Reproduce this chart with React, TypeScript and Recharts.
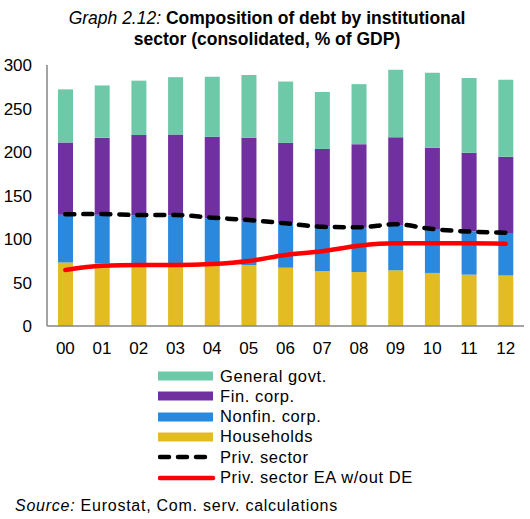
import { Bar, ComposedChart, Legend, Line, XAxis, YAxis } from "recharts"

const years = ["00", "01", "02", "03", "04", "05", "06", "07", "08", "09", "10", "11", "12"]
const households = [73, 72, 70, 70, 69, 70, 67, 63, 62, 64, 61, 59, 58]
const nonfinCorp = [55, 56, 57.5, 57, 55, 51, 51, 51, 51, 52, 50.5, 49.5, 49]
const finCorp = [83, 88.5, 92, 93, 93.5, 95.5, 92.5, 89.5, 96, 101, 93.5, 90.5, 87.5]
const generalGovt = [61, 60, 62.5, 66, 69, 72, 70.5, 65.5, 69, 77.5, 86, 86, 88.5]
const privSector = [128.4, 128.7, 127.6, 127.6, 124.5, 121.8, 118, 114, 113.5, 117, 111.5, 108.5, 107.3]
const privSectorEA = [64.4, 69.3, 70, 70, 71.2, 74.7, 81.6, 86, 92.3, 95, 95, 95, 94.5]
const yTicks = [0, 50, 100, 150, 200, 250, 300]

const COLORS = {
    govt: "#6DC9A8",
    fin: "#7030A0",
    nonfin: "#2A89DD",
    hh: "#E2BC22",
}

const FONT = '"Liberation Sans", Arial, sans-serif'

const data = years.map((y, i) => ({
    year: y,
    households: households[i],
    nonfin: nonfinCorp[i],
    fin: finCorp[i],
    govt: generalGovt[i],
    priv: privSector[i],
    privEA: privSectorEA[i],
}))

const legendItems = [
    { label: "General govt.", kind: "box", color: COLORS.govt },
    { label: "Fin. corp.", kind: "box", color: COLORS.fin },
    { label: "Nonfin. corp.", kind: "box", color: COLORS.nonfin },
    { label: "Households", kind: "box", color: COLORS.hh },
    { label: "Priv. sector", kind: "dash", color: "#000" },
    { label: "Priv. sector EA w/out DE", kind: "line", color: "#FF0000" },
]

// height 0 so recharts doesn't shrink the plot for the legend
const CustomLegend = () => (
    <div style={{ position: "relative", width: 530, height: 0, fontFamily: FONT }}>
        {legendItems.map((it, i) => (
            <div key={it.label} style={{ position: "absolute", left: 158, top: i * 20.3, height: 20, display: "flex", alignItems: "center" }}>
                <svg width={58} height={20}>
                    {it.kind === "box" && <rect x={0} y={5.5} width={55} height={9} fill={it.color} />}
                    {it.kind === "dash" && (
                        <line x1={2} y1={10} x2={55} y2={10} stroke="#000" strokeWidth={4.5} strokeDasharray="9 9" strokeLinecap="round" />
                    )}
                    {it.kind === "line" && (
                        <line x1={2} y1={10} x2={55} y2={10} stroke={it.color} strokeWidth={4.5} strokeLinecap="round" />
                    )}
                </svg>
                <span style={{ fontSize: 16.5, letterSpacing: 0.6, color: "#000", marginLeft: 4, whiteSpace: "nowrap" }}>{it.label}</span>
            </div>
        ))}
    </div>
)

export default function App() {
    return (
        <div style={{ position: "absolute", left: 0, top: 0, width: 530, height: 519, background: "#fff", fontFamily: FONT }}>
            <div style={{ position: "absolute", left: 0, width: 534, top: 8, textAlign: "center", fontSize: 17.5, lineHeight: "21px", color: "#000" }}>
                <div>
                    <i>Graph 2.12:</i> <b>Composition of debt by institutional</b>
                </div>
                <div>
                    <b>sector (consolidated, % of GDP)</b>
                </div>
            </div>
            <ComposedChart width={530} height={519} data={data} margin={{ top: 65, right: 6, left: 0, bottom: 163 }}>
                <XAxis
                    dataKey="year"
                    height={30}
                    tick={{ fill: "#000", fontSize: 17, fontFamily: FONT }}
                    axisLine={{ stroke: "#868686", strokeWidth: 1.5 }}
                    tickLine={false}
                    tickSize={0}
                    tickMargin={16}
                />
                <YAxis
                    domain={[0, 300]}
                    ticks={yTicks}
                    tick={{ fill: "#000", fontSize: 17, fontFamily: FONT }}
                    axisLine={{ stroke: "#868686", strokeWidth: 1.5 }}
                    tickLine={false}
                    tickSize={0}
                    tickMargin={15}
                    width={47}
                />
                <Legend
                    content={<CustomLegend />}
                    wrapperStyle={{ position: "absolute", left: 0, top: 366, width: 530, height: 0 }}
                />
                <Bar dataKey="households" stackId="a" fill={COLORS.hh} barSize={15} isAnimationActive={false} />
                <Bar dataKey="nonfin" stackId="a" fill={COLORS.nonfin} barSize={15} isAnimationActive={false} />
                <Bar dataKey="fin" stackId="a" fill={COLORS.fin} barSize={15} isAnimationActive={false} />
                <Bar dataKey="govt" stackId="a" fill={COLORS.govt} barSize={15} isAnimationActive={false} />
                <Line
                    dataKey="priv"
                    type="monotone"
                    stroke="#000"
                    strokeWidth={4.5}
                    strokeDasharray="9 9"
                    strokeLinecap="round"
                    dot={false}
                    isAnimationActive={false}
                />
                <Line
                    dataKey="privEA"
                    type="monotone"
                    stroke="#FF0000"
                    strokeWidth={4.5}
                    strokeLinecap="round"
                    dot={false}
                    isAnimationActive={false}
                />
            </ComposedChart>
            <div style={{ position: "absolute", left: 15, top: 497, fontSize: 16, letterSpacing: 0.75, color: "#000", whiteSpace: "nowrap" }}>
                <i>Source:</i> Eurostat, Com. serv. calculations
            </div>
        </div>
    )
}
